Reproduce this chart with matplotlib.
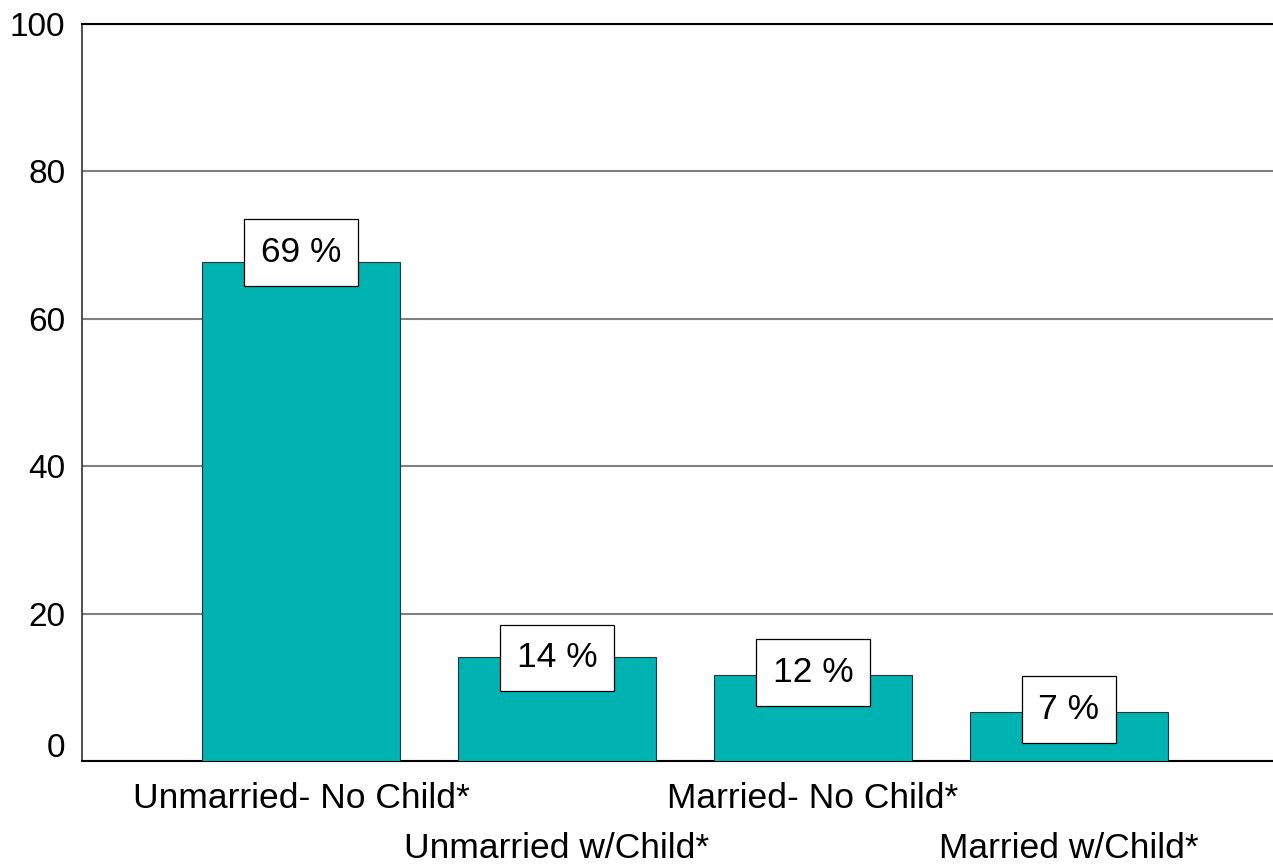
import matplotlib
matplotlib.use('Agg')
import matplotlib.pyplot as plt
import matplotlib.transforms as mtransforms

# Data
categories = ['Unmarried- No Child*', 'Unmarried w/Child*',
              'Married- No Child*', 'Married w/Child*']
bar_values = [67.7, 14.1, 11.7, 6.6]
label_values = [69, 14, 12, 7]
y_ticks = [0, 20, 40, 60, 80, 100]

plt.rcParams['font.family'] = ['Liberation Sans', 'DejaVu Sans']

fig = plt.figure(figsize=(12.73, 8.64), dpi=100)
ax = fig.add_axes([0.0644, 0.1192, 1 - 0.0644, 0.9722 - 0.1192])

x = list(range(len(categories)))
ax.bar(x, bar_values, width=0.773, color='#00B3B3', edgecolor='#333333',
       linewidth=0.8, zorder=3)

# Value labels in white boxes
for xi, lv in zip(x, label_values):
    ax.text(xi, lv, f'{lv} %', ha='center', va='center', fontsize=25.5,
            zorder=4,
            bbox=dict(boxstyle='square,pad=0.47', facecolor='white',
                      edgecolor='black', linewidth=0.9))

ax.set_xlim(-0.855, 3.797)
ax.set_ylim(0, 100)

# Grid
ax.set_yticks(y_ticks)
ax.yaxis.grid(True, color='#808080', linewidth=1.5, zorder=0)
ax.set_axisbelow(True)

# Spines
ax.spines['right'].set_visible(False)
ax.spines['top'].set_color('black')
ax.spines['top'].set_linewidth(1.5)
ax.spines['left'].set_color('#333333')
ax.spines['left'].set_linewidth(1.2)
ax.spines['bottom'].set_color('black')
ax.spines['bottom'].set_linewidth(1.5)

# Tick labels
ax.tick_params(axis='y', length=0, pad=12, labelsize=24)
ax.tick_params(axis='x', length=0, labelsize=25.5)
ax.set_xticks(x)
ax.set_xticklabels(categories)
for i, tick in enumerate(ax.xaxis.get_major_ticks()):
    tick.set_pad(15 if i % 2 == 0 else 51)

# Shift the "0" label up a little, as in the original
offset = mtransforms.ScaledTranslation(0, 16 / 100, fig.dpi_scale_trans)
zero_label = ax.get_yticklabels()[0]
zero_label.set_transform(zero_label.get_transform() + offset)

fig.savefig('out.png', dpi=100, facecolor='white')
